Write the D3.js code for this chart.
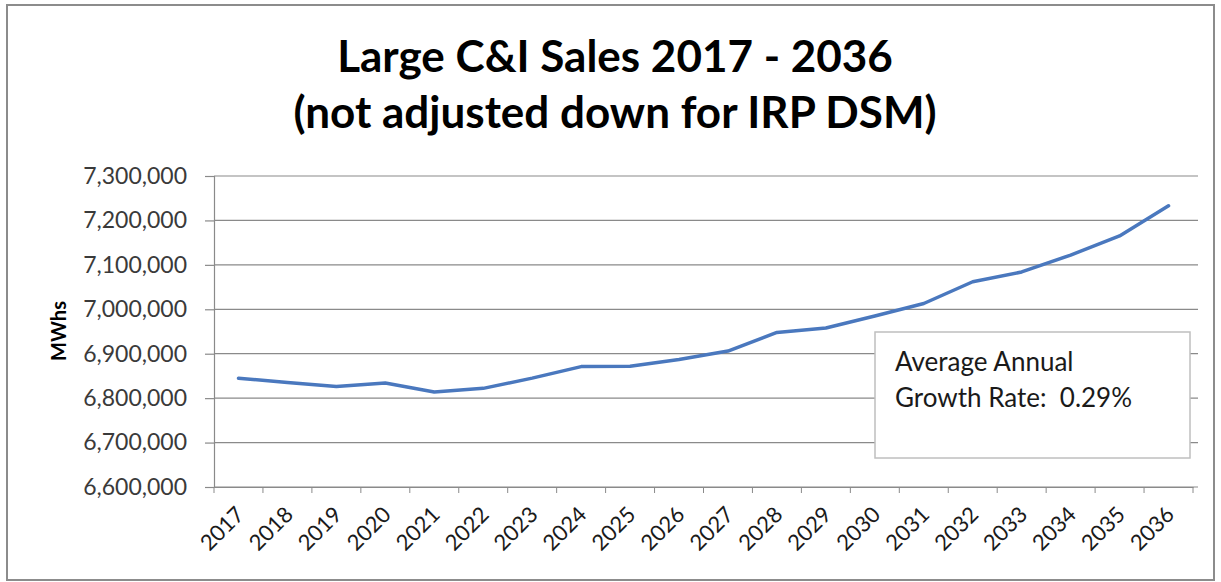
<!DOCTYPE html>
<html>
<head>
<meta charset="utf-8">
<script src="https://cdn.jsdelivr.net/npm/d3@7"></script>
<style>
  body { margin: 0; background: #fff; }
  svg { display: block; font-family: Lato, "Open Sans", sans-serif; }
</style>
</head>
<body>
<script>
"use strict";
(function(){
    const years = ["2017","2018","2019","2020","2021","2022","2023","2024","2025","2026",
                   "2027","2028","2029","2030","2031","2032","2033","2034","2035","2036"]
    const sales = [6845000, 6835000, 6826000, 6834000, 6814000, 6822000, 6845000, 6871000, 6872000, 6887000,
                   6906000, 6948000, 6958000, 6985000, 7013000, 7062000, 7084000, 7122000, 7165000, 7233000]
    const yTicks = [6600000, 6700000, 6800000, 6900000, 7000000, 7100000, 7200000, 7300000]
    const titleLines = ["Large C&I Sales 2017 - 2036", "(not adjusted down for IRP DSM)"]
    const noteLines = ["Average Annual", "Growth Rate:  0.29%"]

    const measurements = {
        width: 1221,
        height: 582,
        left: 214,
        right: 1193,
        top: 176,
        bottom: 487
    }

    const svg = d3.select("body").append("svg")
        .attr("width", measurements.width)
        .attr("height", measurements.height)

    //outer chart frame
    svg.append("rect")
        .attr("x", 7).attr("y", 5)
        .attr("width", 1207).attr("height", 575)
        .attr("fill", "#fff")
        .attr("stroke", "#8c8c8c")
        .attr("stroke-width", 2)

    //title
    svg.append("text")
        .attr("text-anchor", "middle")
        .attr("font-weight", "bold")
        .attr("font-size", 44)
        .attr("fill", "#000")
        .selectAll("tspan")
        .data(titleLines)
        .enter()
        .append("tspan")
            .attr("x", 615)
            .attr("y", (d, i) => 72 + i * 56)
            .text(d => d)

    const scaleX = d3.scaleBand()
        .domain(years)
        .range([measurements.left, measurements.right])
    const scaleY = d3.scaleLinear()
        .domain([6600000, 7300000])
        .range([measurements.bottom, measurements.top])

    //horizontal gridlines
    svg.append("g")
        .selectAll("line")
        .data(yTicks)
        .enter()
        .append("line")
            .attr("x1", measurements.left)
            .attr("x2", measurements.right + 5)
            .attr("y1", d => scaleY(d))
            .attr("y2", d => scaleY(d))
            .attr("stroke", "#8a8a8a")
            .attr("stroke-width", 1.2)

    //y axis
    const yAxis = d3.axisLeft(scaleY)
        .tickValues(yTicks)
        .tickSize(9)
        .tickPadding(18)
        .tickFormat(d3.format(","))
    const gy = svg.append("g")
        .attr("transform", `translate(${measurements.left},0)`)
        .call(yAxis)
    gy.select(".domain").attr("stroke", "#8a8a8a").attr("stroke-width", 1.2)
    gy.selectAll(".tick line").attr("stroke", "#8a8a8a").attr("stroke-width", 1.2)
    gy.selectAll("text")
        .attr("font-family", "Lato, sans-serif")
        .attr("font-size", 23)
        .attr("fill", "#3a3a3a")

    //x axis, ticks between categories
    const xAxis = d3.axisBottom(scaleX).tickSize(0).tickPadding(0)
    const gx = svg.append("g")
        .attr("transform", `translate(0,${measurements.bottom})`)
        .call(xAxis)
    gx.select(".domain").attr("stroke", "#8a8a8a").attr("stroke-width", 1.2)
    gx.selectAll("text")
        .attr("font-family", "Lato, sans-serif")
        .attr("font-size", 22)
        .attr("fill", "#1a1a1a")
        .attr("text-anchor", "end")
        .attr("dy", null)
        .attr("transform", "translate(7,29) rotate(-45)")
    const boundaries = years.map(y => scaleX(y)).concat([measurements.right])
    gx.selectAll(".sep")
        .data(boundaries)
        .enter()
        .append("line")
            .attr("class", "sep")
            .attr("x1", d => d).attr("x2", d => d)
            .attr("y1", 0).attr("y2", 6)
            .attr("stroke", "#8a8a8a")

    //y axis title
    svg.append("text")
        .attr("transform", "translate(66,331) rotate(-90)")
        .attr("text-anchor", "middle")
        .attr("font-weight", "bold")
        .attr("font-size", 20)
        .text("MWhs")

    //sales line
    const line = d3.line()
        .x((d, i) => scaleX(years[i]) + scaleX.bandwidth() / 2)
        .y(d => scaleY(d))
    svg.append("path")
        .datum(sales)
        .attr("d", line)
        .attr("fill", "none")
        .attr("stroke", "#4A78BE")
        .attr("stroke-width", 3.5)
        .attr("stroke-linejoin", "round")
        .attr("stroke-linecap", "round")

    //growth rate note
    svg.append("rect")
        .attr("x", 875).attr("y", 332)
        .attr("width", 315).attr("height", 126)
        .attr("fill", "#fff")
        .attr("stroke", "#bfbfbf")
        .attr("stroke-width", 1.5)
    svg.append("text")
        .attr("font-size", 26)
        .attr("fill", "#1a1a1a")
        .selectAll("tspan")
        .data(noteLines)
        .enter()
        .append("tspan")
            .attr("x", 895)
            .attr("y", (d, i) => 371 + i * 36)
            .style("white-space", "pre")
            .text(d => d)
})()
</script>
</body>
</html>
